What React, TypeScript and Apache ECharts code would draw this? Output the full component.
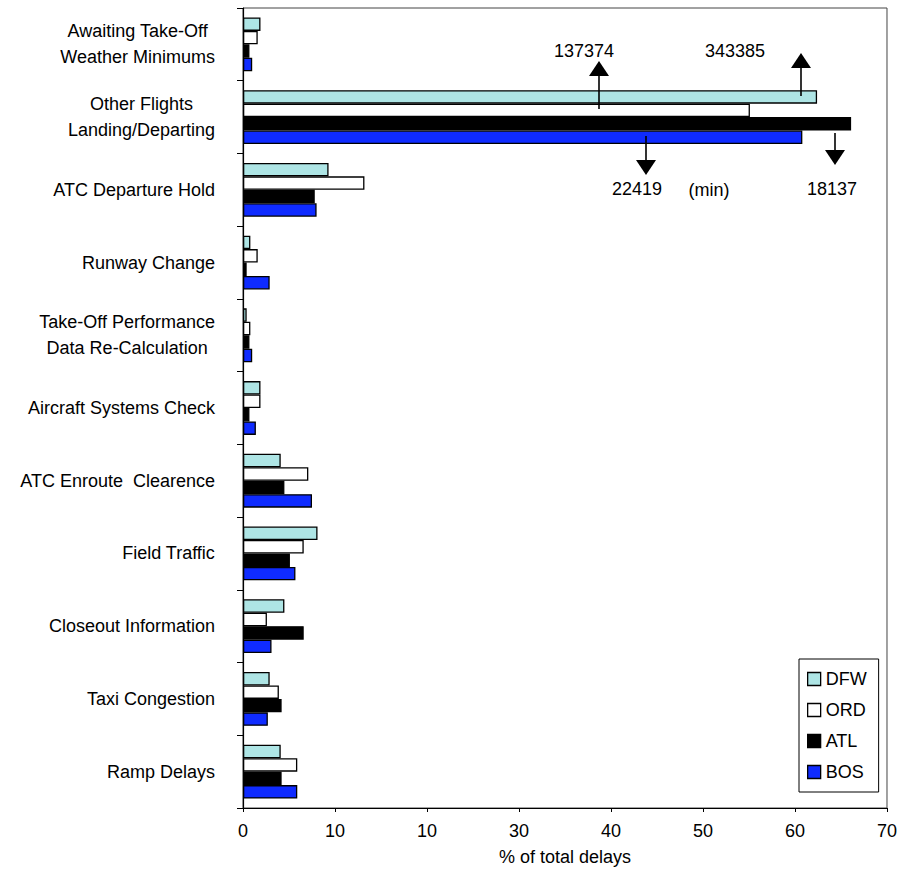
import React, { useEffect, useRef } from "react";
import * as echarts from "echarts";

const categories = [
  "Awaiting Take-Off\nWeather Minimums",
  "Other Flights\nLanding/Departing",
  "ATC Departure Hold",
  "Runway Change",
  "Take-Off Performance\nData Re-Calculation",
  "Aircraft Systems Check",
  "ATC Enroute  Clearence",
  "Field Traffic",
  "Closeout Information",
  "Taxi Congestion",
  "Ramp Delays",
];

const seriesNames = ["DFW", "ORD", "ATL", "BOS"];
const dfwValues = [1.9, 62.4, 9.3, 0.8, 0.4, 1.9, 4.1, 8.1, 4.5, 2.9, 4.1];
const ordValues = [1.6, 55.1, 13.2, 1.6, 0.8, 1.9, 7.1, 6.6, 2.6, 3.9, 5.9];
const atlValues = [0.7, 66.1, 7.8, 0.4, 0.7, 0.7, 4.5, 5.1, 6.6, 4.2, 4.2];
const bosValues = [1.0, 60.8, 8.0, 2.9, 1.0, 1.4, 7.5, 5.7, 3.1, 2.7, 5.9];
const seriesColors = ["#aee5e5", "#ffffff", "#000000", "#0f2bff"];

const xTickLabels = ["0", "10", "10", "30", "40", "50", "60", "70"];

// annotation texts (minutes)
const upNotes = ["137374", "343385"];
const downNotes = ["22419", "18137"];
const unitNote = "(min)";

const FONT = "Liberation Sans, Arial, sans-serif";

export default function App() {
  const ref = useRef<HTMLDivElement>(null);

  useEffect(() => {
    if (!ref.current) return;
    const chart = echarts.init(ref.current, null, { renderer: "svg" });
    const allValues = [dfwValues, ordValues, atlValues, bosValues];

    const arrow = (x: number, y1: number, y2: number, dir: "up" | "down") => {
      const headLen = 15;
      const half = 10;
      const base = dir === "up" ? y2 + headLen : y2 - headLen;
      return [
        {
          type: "line",
          shape: { x1: x, y1: y1, x2: x, y2: base },
          style: { stroke: "#000", lineWidth: 1.6 },
          z: 100,
        },
        {
          type: "polygon",
          shape: {
            points: [
              [x - half, base],
              [x + half, base],
              [x, y2],
            ],
          },
          style: { fill: "#000" },
          z: 100,
        },
      ];
    };

    const txt = (s: string, x: number, y: number) => ({
      type: "text",
      x,
      y,
      style: {
        text: s,
        fill: "#000",
        font: `18px ${FONT}`,
        align: "center",
        verticalAlign: "middle",
      },
      z: 100,
    });

    chart.setOption({
      animation: false,
      backgroundColor: "#ffffff",
      textStyle: { fontFamily: FONT },
      grid: {
        left: 243,
        right: 7,
        top: 8,
        bottom: 63,
        show: true,
        borderColor: "#444",
        borderWidth: 1,
        containLabel: false,
      },
      legend: {
        orient: "vertical",
        left: 799,
        top: 659,
        data: seriesNames,
        icon: "rect",
        itemWidth: 13,
        itemHeight: 13,
        itemGap: 13,
        padding: [11, 12, 11, 8],
        borderColor: "#000",
        borderWidth: 1,
        backgroundColor: "#fff",
        itemStyle: { borderColor: "#000", borderWidth: 1.3 },
        textStyle: { fontSize: 18, color: "#000", fontFamily: FONT, lineHeight: 18 },
      },
      xAxis: {
        type: "value",
        min: 0,
        max: 70,
        interval: 10,
        splitLine: { show: false },
        axisLine: { show: true, lineStyle: { color: "#000", width: 1.2 } },
        axisTick: { show: true, length: 4, lineStyle: { color: "#000" } },
        axisLabel: {
          fontSize: 18,
          color: "#000",
          margin: 14,
          fontFamily: FONT,
          formatter: (v: number) => xTickLabels[Math.round(v / 10)] ?? String(v),
        },
        name: "% of total delays",
        nameLocation: "middle",
        nameGap: 40,
        nameTextStyle: { fontSize: 18, color: "#000", fontFamily: FONT },
      },
      yAxis: {
        type: "category",
        inverse: true,
        data: categories,
        axisLine: { show: true, lineStyle: { color: "#000", width: 1.2 } },
        axisTick: { show: true, length: 6, interval: 0, lineStyle: { color: "#000" } },
        splitLine: { show: false },
        axisLabel: {
          interval: 0,
          margin: 28,
          color: "#000",
          fontSize: 18,
          fontFamily: FONT,
          lineHeight: 26,
          formatter: (v: string) =>
            v
              .split("\n")
              .map((l) => `{c|${l}}`)
              .join("\n"),
          rich: {
            c: {
              align: "center",
              fontSize: 18,
              lineHeight: 26,
              fontFamily: FONT,
              color: "#000",
            },
          },
        },
      },
      series: seriesNames.map((name, i) => ({
        name,
        type: "bar",
        data: allValues[i],
        barGap: "0%",
        barCategoryGap: "26%",
        itemStyle: {
          color: seriesColors[i],
          borderColor: "#000",
          borderWidth: 1.3,
        },
      })),
      graphic: [
        ...arrow(599, 109, 61, "up"),
        ...arrow(801, 96, 53, "up"),
        ...arrow(646, 136, 175, "down"),
        ...arrow(835, 133, 165, "down"),
        txt(upNotes[0], 584, 51),
        txt(upNotes[1], 735, 51),
        txt(downNotes[0], 637, 189),
        txt(downNotes[1], 832, 189),
        txt(unitNote, 709, 190),
      ],
    });

    return () => chart.dispose();
  }, []);

  return (
    <div
      ref={ref}
      style={{ position: "absolute", left: 0, top: 0, width: 900, height: 871 }}
    />
  );
}
